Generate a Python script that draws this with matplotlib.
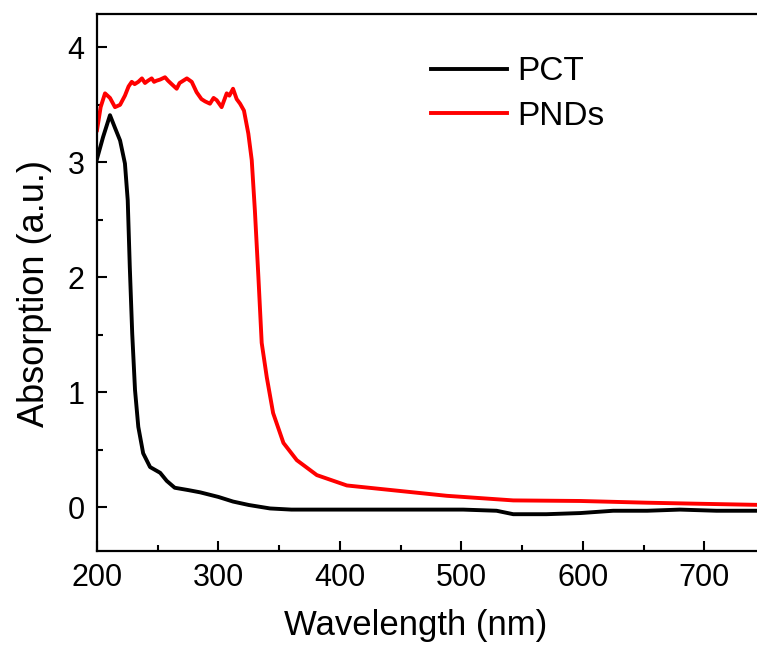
import matplotlib
matplotlib.use("Agg")
import matplotlib.pyplot as plt
from matplotlib.ticker import MultipleLocator

plt.rcParams['font.family'] = ['Liberation Sans', 'DejaVu Sans']

# PCT (black)
pct_wl = [200, 205, 210.7, 214.8, 219, 223, 225.3, 227, 229, 231.3, 234, 238, 243.7,
          252, 257.4, 264, 275, 285, 300, 312, 325, 342.5, 360, 400, 433, 501.5, 529,
          542.7, 570, 598, 625, 653, 680, 710, 750]
pct_abs = [3.03, 3.22, 3.41, 3.30, 3.19, 2.99, 2.67, 2.09, 1.51, 1.02, 0.70, 0.47, 0.35,
           0.30, 0.23, 0.17, 0.15, 0.13, 0.09, 0.05, 0.02, -0.01, -0.02, -0.02, -0.02, -0.02, -0.03,
           -0.06, -0.06, -0.05, -0.03, -0.03, -0.02, -0.03, -0.03]

# PNDs (red)
pnd_wl = [200, 203, 206.6, 210.7, 214.8, 219, 223, 226, 228.6, 231, 234, 237, 239.5, 242,
          245, 247, 249, 252, 256, 258.5, 261.5, 265.6, 268, 271, 274, 278, 282, 286, 289,
          293, 296, 298.6, 302.6, 306.8, 309, 312, 315, 317.8, 321, 324.6, 327.4, 330,
          332.9, 335.6, 339.8, 345, 353.5, 364.5, 381, 405.7, 433, 488, 542.7, 598,
          652.8, 700, 750]
pnd_abs = [3.28, 3.48, 3.60, 3.56, 3.48, 3.50, 3.58, 3.66, 3.70, 3.68, 3.70, 3.73, 3.69, 3.71,
           3.73, 3.70, 3.71, 3.72, 3.74, 3.71, 3.68, 3.64, 3.69, 3.71, 3.73, 3.70, 3.61, 3.55, 3.53,
           3.51, 3.56, 3.54, 3.48, 3.60, 3.58, 3.64, 3.55, 3.51, 3.45, 3.25, 3.02, 2.58,
           2.00, 1.43, 1.13, 0.82, 0.56, 0.41, 0.28, 0.19, 0.16, 0.10, 0.06, 0.055,
           0.04, 0.03, 0.02]

fig = plt.figure(figsize=(7.57, 6.46), dpi=100)
ax = fig.add_axes([97/757, 95/646, 668/757, 537/646])
ax.plot(pct_wl, pct_abs, color='black', lw=2.8, label='PCT', solid_joinstyle='round')
ax.plot(pnd_wl, pnd_abs, color='#ff0000', lw=2.8, label='PNDs', solid_joinstyle='round')

ax.set_xlim(200, 750)
ax.set_ylim(-0.38, 4.29)
ax.xaxis.set_major_locator(MultipleLocator(100))
ax.xaxis.set_minor_locator(MultipleLocator(50))
ax.yaxis.set_major_locator(MultipleLocator(1))
ax.yaxis.set_minor_locator(MultipleLocator(0.5))
ax.tick_params(which='both', direction='in', top=False, right=False, width=1.5)
ax.tick_params(which='major', length=7, labelsize=22)
ax.tick_params(axis='x', which='major', pad=9)
ax.tick_params(axis='y', which='major', pad=9)
ax.tick_params(which='minor', length=4)
for s in ax.spines.values():
    s.set_linewidth(1.6)

ax.set_xlabel('Wavelength (nm)', fontsize=25)
ax.set_ylabel('Absorption (a.u.)', fontsize=26)
ax.xaxis.set_label_coords(0.4775, -0.108)
ax.yaxis.set_label_coords(-0.067, 0.48)

ax.legend(loc='upper left', bbox_to_anchor=(0.4995, 0.921), frameon=False, fontsize=24,
          handlelength=2.3, handletextpad=0.3, labelspacing=0.4, borderpad=0,
          borderaxespad=0)

fig.savefig('out.png', dpi=100)
